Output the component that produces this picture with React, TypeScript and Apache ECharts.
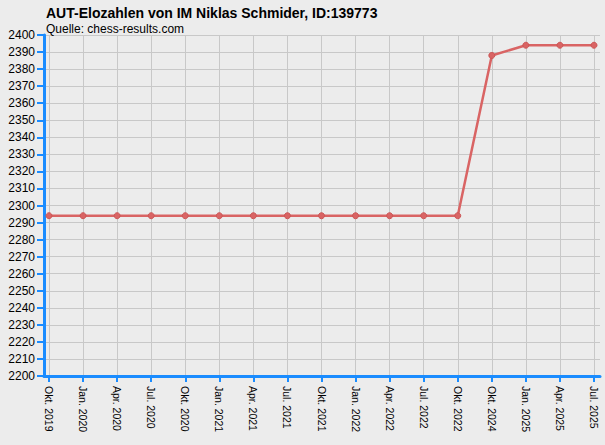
import { useEffect, useRef } from "react";
import * as echarts from "echarts";

// periods on the x axis
const periods = [
  "Okt. 2019", "Jan. 2020", "Apr. 2020", "Jul. 2020", "Okt. 2020",
  "Jan. 2021", "Apr. 2021", "Jul. 2021", "Okt. 2021", "Jan. 2022",
  "Apr. 2022", "Jul. 2022", "Okt. 2022", "Okt. 2024", "Jan. 2025",
  "Apr. 2025", "Jul. 2025",
];

// rating per period
const ratings = [
  2294, 2294, 2294, 2294, 2294, 2294, 2294, 2294, 2294, 2294,
  2294, 2294, 2294, 2388, 2394, 2394, 2394,
];

const yMin = 2200;
const yMax = 2400;
const yStep = 10;

const AXIS = "#1a8cff";
const GRIDLINE = "#c8c8c8";
const LINE = "#d96464";

export default function App() {
  const chartRef = useRef<HTMLDivElement>(null);

  useEffect(() => {
    if (!chartRef.current) return;
    const chart = echarts.init(chartRef.current, null, { renderer: "svg" });

    chart.setOption({
      animation: false,
      backgroundColor: "#ececec",
      textStyle: { fontFamily: "Liberation Sans, Arial, sans-serif" },
      title: {
        text: "AUT-Elozahlen von IM Niklas Schmider, ID:139773",
        subtext: "Quelle: chess-results.com",
        left: 41,
        top: 1,
        itemGap: 3,
        textStyle: { fontSize: 14, fontWeight: "bold", color: "#000" },
        subtextStyle: { fontSize: 12, color: "#000" },
      },
      grid: [
        // data grid, inset 5px from the axes
        { left: 49, right: 11, top: 35, bottom: 69 },
        // frame grid: axis lines, y labels, horizontal lines
        { left: 44, right: 5, top: 35, bottom: 69 },
      ],
      xAxis: [
        {
          gridIndex: 0,
          type: "category",
          data: periods,
          boundaryGap: false,
          axisLine: { show: false },
          axisTick: {
            show: true,
            alignWithLabel: true,
            length: 6,
            lineStyle: { color: AXIS, width: 2 },
          },
          axisLabel: {
            rotate: -90,
            margin: 10,
            fontSize: 10.5,
            color: "#000",
            interval: 0,
          },
          splitLine: { show: true, lineStyle: { color: GRIDLINE, width: 1 } },
        },
        {
          gridIndex: 1,
          type: "value",
          min: 0,
          max: 1,
          axisLine: { show: true, lineStyle: { color: AXIS, width: 3 } },
          axisTick: { show: false },
          axisLabel: { show: false },
          splitLine: { show: false },
        },
      ],
      yAxis: [
        {
          gridIndex: 0,
          type: "value",
          min: yMin,
          max: yMax,
          interval: yStep,
          axisLine: { show: false },
          axisTick: { show: false },
          axisLabel: { show: false },
          splitLine: { show: false },
        },
        {
          gridIndex: 1,
          type: "value",
          min: yMin,
          max: yMax,
          interval: yStep,
          axisLine: { show: true, lineStyle: { color: AXIS, width: 3 } },
          axisTick: { show: true, length: 7, lineStyle: { color: AXIS, width: 2 } },
          axisLabel: {
            fontSize: 12,
            color: "#000",
            margin: 9,
            formatter: (v: number) => String(v),
          },
          splitLine: { show: true, lineStyle: { color: GRIDLINE, width: 1 } },
        },
      ],
      series: [
        {
          type: "line",
          xAxisIndex: 0,
          yAxisIndex: 0,
          data: ratings,
          symbol: "circle",
          symbolSize: 6,
          lineStyle: { color: LINE, width: 2.5 },
          itemStyle: { color: LINE, borderColor: "#cc5555", borderWidth: 1 },
          emphasis: { disabled: true },
          z: 5,
        },
      ],
    });

    return () => chart.dispose();
  }, []);

  return (
    <div
      ref={chartRef}
      style={{ position: "fixed", left: 0, top: 0, width: 605, height: 445 }}
    />
  );
}
